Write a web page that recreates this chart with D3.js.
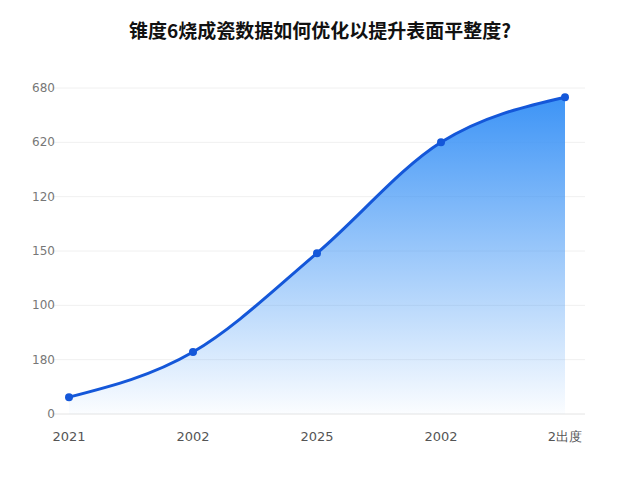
<!DOCTYPE html><html><head><meta charset="utf-8"><script src="https://cdn.jsdelivr.net/npm/d3@7"></script>
<style>body{margin:0;background:#fff}</style></head><body><svg width="640" height="480"></svg><script>
const categories=["2021","2002","2025","2002","2出度"];
const values=[31,114,296,500,583];
const tickValues=[0,100,200,300,400,500,600];
const tickLabels=["0","180","100","150","120","620","680"];
const svg=d3.select("svg");
const x=d3.scalePoint().domain(d3.range(categories.length)).range([69,565]);
const y=d3.scaleLinear().domain([0,600]).range([414,88]);
svg.append("text").attr("x",320).attr("y",38).attr("text-anchor","middle").attr("font-family","Noto Sans CJK SC").attr("font-weight","bold").attr("font-size",19).attr("fill","#111").text("锥度6烧成瓷数据如何优化以提升表面平整度?");
const g=svg.append("g");
tickValues.forEach((t,i)=>{
 g.append("line").attr("x1",52).attr("x2",585).attr("y1",y(t)).attr("y2",y(t)).attr("stroke",i==0?"#e4e4e4":"#f0f0f0");
 g.append("text").attr("x",55).attr("y",y(t)+4).attr("text-anchor","end").attr("font-family","DejaVu Sans").attr("font-size",12).attr("fill","#777").text(tickLabels[i]);
});
categories.forEach((c,i)=>g.append("text").attr("x",x(i)).attr("y",441).attr("text-anchor","middle").attr("font-family","DejaVu Sans").attr("font-size",13).attr("fill","#555").text(c));
const defs=svg.append("defs");
const gr=defs.append("linearGradient").attr("id","gr").attr("x1",0).attr("x2",0).attr("y1",0).attr("y2",1);
gr.append("stop").attr("offset","0").attr("stop-color","#3d94f6");
gr.append("stop").attr("offset","1").attr("stop-color","#3d94f6").attr("stop-opacity",0.02);
const data=values.map((v,i)=>[i,v]);
const area=d3.area().x(d=>x(d[0])).y0(y(0)).y1(d=>y(d[1])).curve(d3.curveMonotoneX);
svg.append("path").datum(data).attr("d",area).attr("fill","url(#gr)");
const line=d3.line().x(d=>x(d[0])).y(d=>y(d[1])).curve(d3.curveMonotoneX);
svg.append("path").datum(data).attr("d",line).attr("fill","none").attr("stroke","#1457d9").attr("stroke-width",3);
svg.selectAll("circle").data(data).join("circle").attr("cx",d=>x(d[0])).attr("cy",d=>y(d[1])).attr("r",4).attr("fill","#1457d9");
</script></body></html>
